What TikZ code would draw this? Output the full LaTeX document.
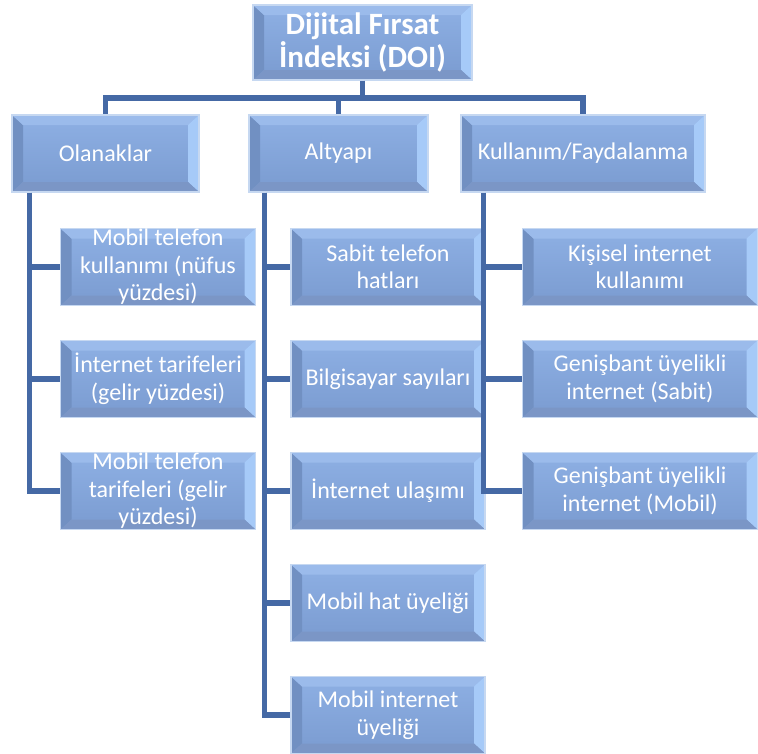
\documentclass[tikz,border=0pt]{standalone}
\usepackage{fontspec}
\setmainfont{Carlito}
\usetikzlibrary{positioning}

\definecolor{kutuust}{HTML}{8EB0E4}
\definecolor{kutualt}{HTML}{7A9BD0}
\definecolor{bvust}{HTML}{9BBBEB}
\definecolor{bvsol}{HTML}{7190C2}
\definecolor{bvsag}{HTML}{A6CAF8}
\definecolor{bvalt}{HTML}{7B96C6}
\definecolor{kenar}{HTML}{C6D8F1}
\definecolor{hatrenk}{HTML}{4569A5}

% kabartma kenarlari
\newcommand{\egimciz}{%
    \coordinate (sw) at (path picture bounding box.south west);
    \coordinate (nw) at (path picture bounding box.north west);
    \coordinate (ne) at (path picture bounding box.north east);
    \coordinate (se) at (path picture bounding box.south east);
    \fill[bvsol] (sw) -- (nw) -- ([shift={(11pt,-10pt)}]nw) -- ([shift={(11pt,10pt)}]sw) -- cycle;
    \fill[bvust] (nw) -- (ne) -- ([shift={(-11pt,-10pt)}]ne) -- ([shift={(11pt,-10pt)}]nw) -- cycle;
    \fill[bvsag] (ne) -- (se) -- ([shift={(-11pt,10pt)}]se) -- ([shift={(-11pt,-10pt)}]ne) -- cycle;
    \fill[bvalt] (se) -- (sw) -- ([shift={(11pt,10pt)}]sw) -- ([shift={(-11pt,10pt)}]se) -- cycle;
}

\tikzset{%
    kutu/.style   = {rectangle, draw=kenar, line width=1.5pt,
                     top color=kutuust, bottom color=kutualt,
                     text=white, align=center, inner sep=0pt,
                     minimum height=77pt, path picture={\egimciz},
                     font=\fontsize{24}{27.5}\selectfont},
    kok/.style    = {kutu, minimum width=219pt, minimum height=75pt,
                     font=\bfseries\fontsize{31}{33}\selectfont},
    hat/.style    = {draw=hatrenk, line width=5.5pt},
}

\begin{document}
\begin{tikzpicture}[x=1pt, y=-1pt, node distance=112pt]
    \useasboundingbox (0,0) rectangle (758,753);

    \node (doi)  [kok] at (362.5,42.5) {Dijital Fırsat\\İndeksi (DOI)};
    \node (olan) [kutu, minimum width=187pt] at (105.5,153.5) {Olanaklar};
    \node (alty) [kutu, minimum width=179pt] at (338.5,153.5) {Altyapı};
    \node (kull) [kutu, minimum width=244pt] at (583,153.5) {Kullanım/Faydalanma};

    % Olanaklar
    \node (ol1) [kutu, minimum width=195pt, below of=olan, node distance=113.5pt, xshift=52.5pt]
        {Mobil telefon\\kullanımı (nüfus\\yüzdesi)};
    \node (ol2) [kutu, minimum width=195pt, below of=ol1] {İnternet tarifeleri\\(gelir yüzdesi)};
    \node (ol3) [kutu, minimum width=195pt, below of=ol2] {Mobil telefon\\tarifeleri (gelir\\yüzdesi)};

    % Altyapi
    \node (al1) [kutu, minimum width=194pt, below of=alty, node distance=113.5pt, xshift=49.5pt]
        {Sabit telefon\\hatları};
    \node (al2) [kutu, minimum width=194pt, below of=al1] {Bilgisayar sayıları};
    \node (al3) [kutu, minimum width=194pt, below of=al2] {İnternet ulaşımı};
    \node (al4) [kutu, minimum width=194pt, below of=al3] {Mobil hat üyeliği};
    \node (al5) [kutu, minimum width=194pt, below of=al4] {Mobil internet\\üyeliği};

    % Kullanim
    \node (ku1) [kutu, minimum width=235pt, below of=kull, node distance=113.5pt, xshift=57pt]
        {Kişisel internet\\kullanımı};
    \node (ku2) [kutu, minimum width=235pt, below of=ku1] {Genişbant üyelikli\\internet (Sabit)};
    \node (ku3) [kutu, minimum width=235pt, below of=ku2] {Genişbant üyelikli\\internet (Mobil)};

    \draw[hat] (doi.south) -- ++(0,-17pt) -| (olan.north);
    \draw[hat] (doi.south) -- ++(0,-17pt) -| (alty.north);
    \draw[hat] (doi.south) -- ++(0,-17pt) -| (kull.north);

    \draw[hat] ([xshift=18pt]olan.south west) |- (ol1.west);
    \draw[hat] ([xshift=18pt]olan.south west) |- (ol2.west);
    \draw[hat] ([xshift=18pt]olan.south west) |- (ol3.west);

    \draw[hat] ([xshift=16pt]alty.south west) |- (al1.west);
    \draw[hat] ([xshift=16pt]alty.south west) |- (al2.west);
    \draw[hat] ([xshift=16pt]alty.south west) |- (al3.west);
    \draw[hat] ([xshift=16pt]alty.south west) |- (al4.west);
    \draw[hat] ([xshift=16pt]alty.south west) |- (al5.west);

    \draw[hat] ([xshift=23pt]kull.south west) |- (ku1.west);
    \draw[hat] ([xshift=23pt]kull.south west) |- (ku2.west);
    \draw[hat] ([xshift=23pt]kull.south west) |- (ku3.west);
\end{tikzpicture}
\end{document}
